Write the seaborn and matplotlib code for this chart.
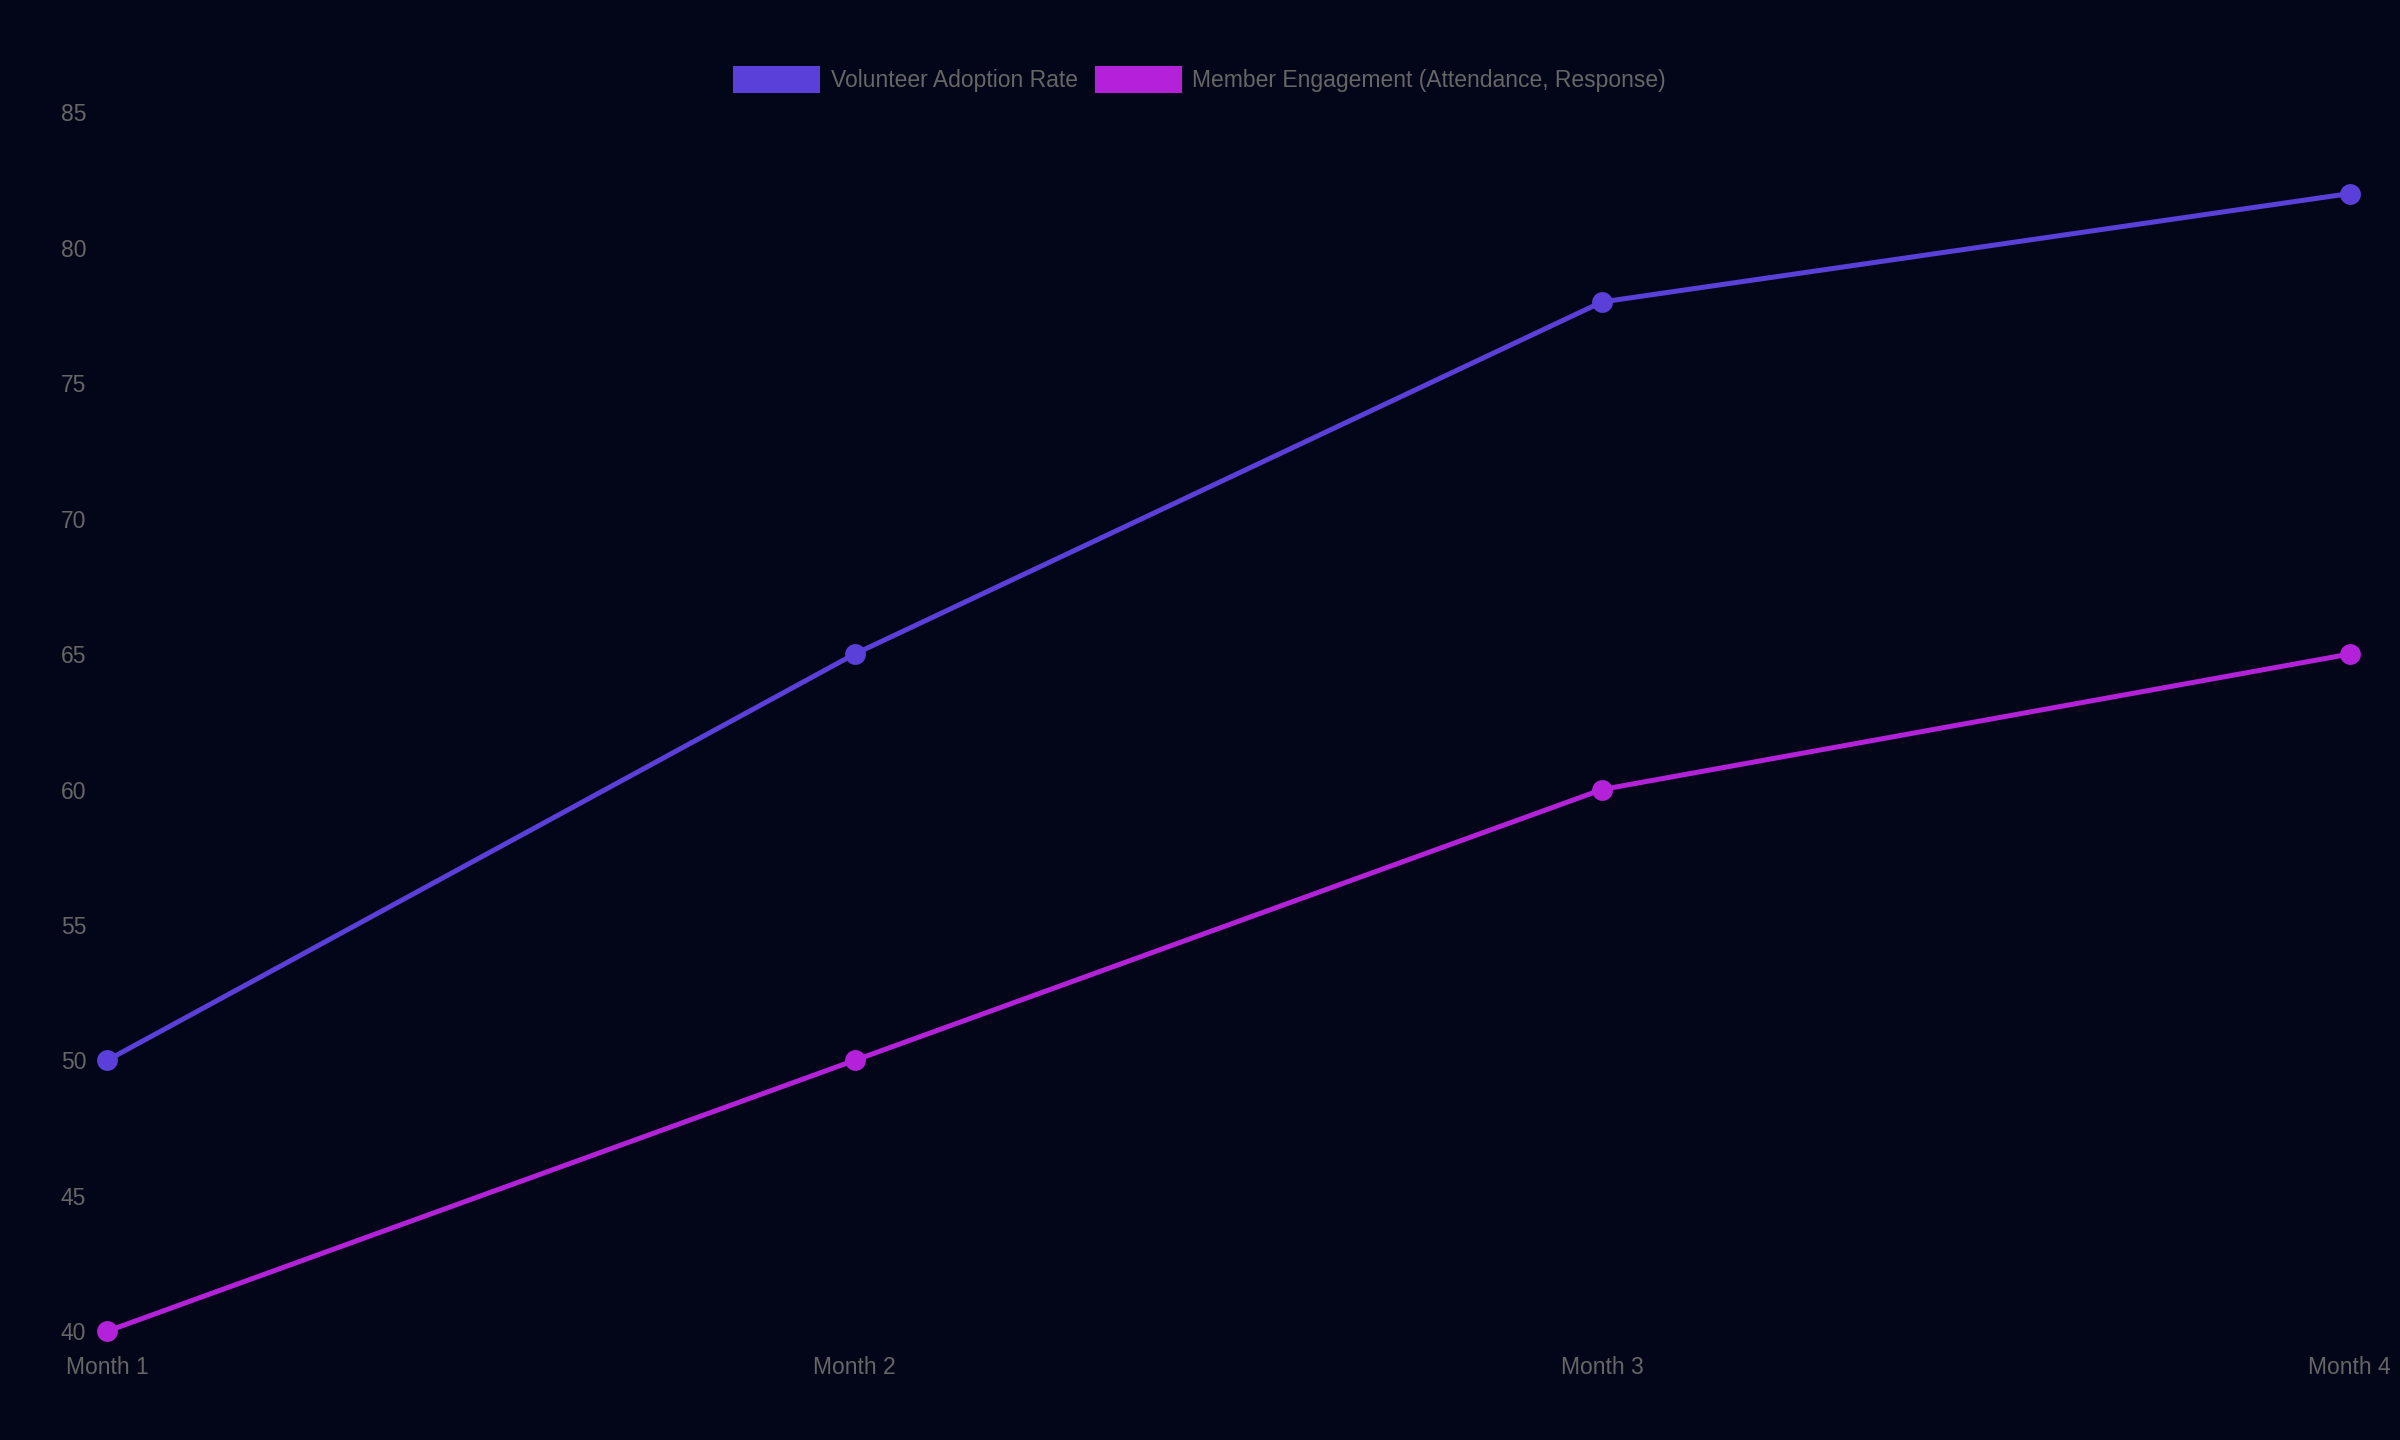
import matplotlib
matplotlib.use("Agg")
import matplotlib.pyplot as plt
import seaborn as sns
import pandas as pd
from matplotlib.patches import Patch

months = ["Month 1", "Month 2", "Month 3", "Month 4"]
volunteer = [50, 65, 78, 82]
engagement = [40, 50, 60, 65]
series_names = ["Volunteer Adoption Rate", "Member Engagement (Attendance, Response)"]
colors = ["#5b3fd9", "#b322d9"]

sns.set_theme(style="dark")
plt.rcParams['font.family'] = ['Liberation Sans', 'DejaVu Sans']
bg = "#030619"
df = pd.DataFrame({"x": list(range(4)) * 2,
                   "value": volunteer + engagement,
                   "series": [series_names[0]] * 4 + [series_names[1]] * 4})

fig = plt.figure(figsize=(16, 9.6), dpi=150, facecolor=bg)
ax = fig.add_axes([0.0446, 0.0755, 0.979 - 0.0446, 0.922 - 0.0755])
ax.set_facecolor(bg)
sns.lineplot(data=df, x="x", y="value", hue="series", palette=colors, marker="o",
             markersize=10, markeredgewidth=0, linewidth=2.4, ax=ax, legend=False)
ax.set_xlim(0, 3)
ax.set_ylim(40, 85)
ax.set_xticks(range(4))
ax.set_xticklabels(months)
ax.set_yticks(range(40, 86, 5))
ax.tick_params(colors="#666666", labelsize=11, length=0)
ax.tick_params(axis="x", pad=12)
ax.tick_params(axis="y", pad=10)
ax.set_xlabel("")
ax.set_ylabel("")
ax.grid(False)
for s in ax.spines.values():
    s.set_visible(False)
for m in ax.lines:
    m.set_clip_on(False)
handles = [Patch(facecolor=c, edgecolor=c) for c in colors]
fig.legend(handles, series_names, loc="center", bbox_to_anchor=(0.5, 0.945), ncol=2,
           frameon=False, fontsize=11, labelcolor="#666666", handlelength=3.7,
           handleheight=1.3, columnspacing=0.8, handletextpad=0.5)
fig.savefig("out.png", dpi=150, facecolor=bg)
